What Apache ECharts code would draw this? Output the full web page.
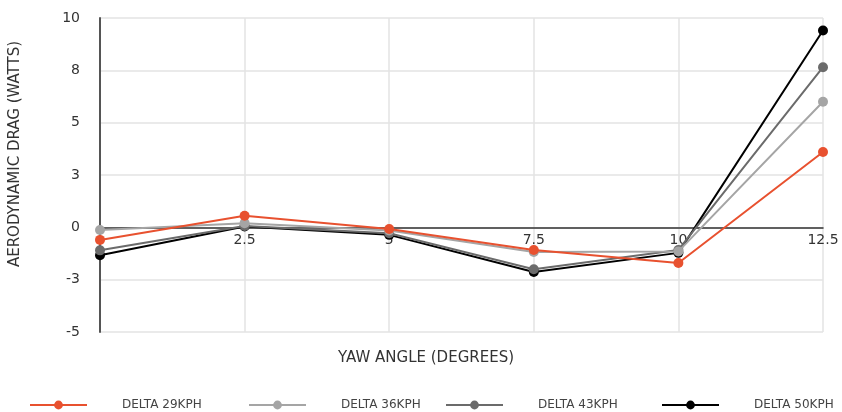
<!DOCTYPE html>
<html>
<head>
<meta charset="utf-8">
<script src="https://cdn.jsdelivr.net/npm/echarts@6/dist/echarts.min.js"></script>
<style>html,body{margin:0;padding:0;background:#fff}#c{width:842px;height:412px}</style>
</head>
<body>
<div id="c"></div>
<script>
const yawAngles = [0, 2.5, 5, 7.5, 10, 12.5];
const seriesNames = ['DELTA 29KPH', 'DELTA 36KPH', 'DELTA 43KPH', 'DELTA 50KPH'];
const delta29 = [-0.6, 0.55, -0.08, -1.08, -1.7, 3.6];
const delta36 = [-0.13, 0.2, -0.15, -1.18, -1.15, 6.0];
const delta43 = [-1.1, 0.06, -0.28, -2.0, -1.08, 7.65];
const delta50 = [-1.33, 0.04, -0.36, -2.13, -1.22, 9.4];
const yTicks = [-5, -2.5, 0, 2.5, 5, 7.5, 10];
const colors = ['#e8512f', '#a5a5a5', '#6b6b6b', '#000000'];

const allData = [delta29, delta36, delta43, delta50];
const font = 'DejaVu Sans';
const legendLefts = [24, 243, 440, 656];

const chart = echarts.init(document.getElementById('c'));
const series = allData.map((d, i) => ({
  name: seriesNames[i],
  type: 'line',
  data: d.map((v, j) => [yawAngles[j], v]),
  symbol: 'circle',
  symbolSize: 10,
  z: i === 0 ? 10 : 2 + (3 - i),
  lineStyle: { color: colors[i], width: 2 },
  itemStyle: { color: colors[i] },
  emphasis: { disabled: true },
  animation: false
}));

const gridTop = 18, gridBottom = 80, chartH = 412;
const plotH = chartH - gridTop - gridBottom;
const yMin = yTicks[0], yMax = yTicks[yTicks.length - 1];
const zeroOffset = -plotH * (0 - yMin) / (yMax - yMin);

chart.setOption({
  animation: false,
  grid: { left: 100, right: 19, top: gridTop, bottom: gridBottom },
  legend: seriesNames.map((n, i) => ({
    data: [n],
    left: legendLefts[i],
    top: 394,
    itemWidth: 57,
    itemHeight: 11,
    textStyle: { fontFamily: font, fontSize: 12, color: '#444', padding: [0, 0, 0, 30] },
    selectedMode: false
  })),
  xAxis: {
    type: 'value',
    min: 0, max: 12.5, interval: 2.5,
    offset: zeroOffset,
    axisLine: { show: true, onZero: false, lineStyle: { color: '#333', width: 1.5 } },
    axisTick: { show: false },
    axisLabel: { showMinLabel: false, color: '#333', fontFamily: font, fontSize: 14, margin: 6,
      formatter: v => String(v) },
    splitLine: { show: true, lineStyle: { color: '#e3e3e3', width: 1.5 } }
  },
  yAxis: {
    type: 'value',
    min: yMin, max: yMax, interval: 2.5,
    axisLine: { show: true, onZero: false, lineStyle: { color: '#555', width: 2 } },
    axisTick: { show: false },
    axisLabel: { color: '#333', fontFamily: font, fontSize: 14, margin: 20,
      formatter: v => v.toFixed(0) },
    splitLine: { show: true, lineStyle: { color: '#e3e3e3', width: 1.5 } }
  },
  graphic: [
    { type: 'text', x: 426, y: 358,
      style: { text: 'YAW ANGLE (DEGREES)', fontFamily: font, fontSize: 15, fill: '#333',
        align: 'center', verticalAlign: 'middle' } },
    { type: 'text', x: 15, y: 154, rotation: Math.PI / 2,
      style: { text: 'AERODYNAMIC DRAG (WATTS)', fontFamily: font, fontSize: 15, fill: '#333',
        align: 'center', verticalAlign: 'middle' } }
  ],
  series
});
</script>
</body>
</html>
